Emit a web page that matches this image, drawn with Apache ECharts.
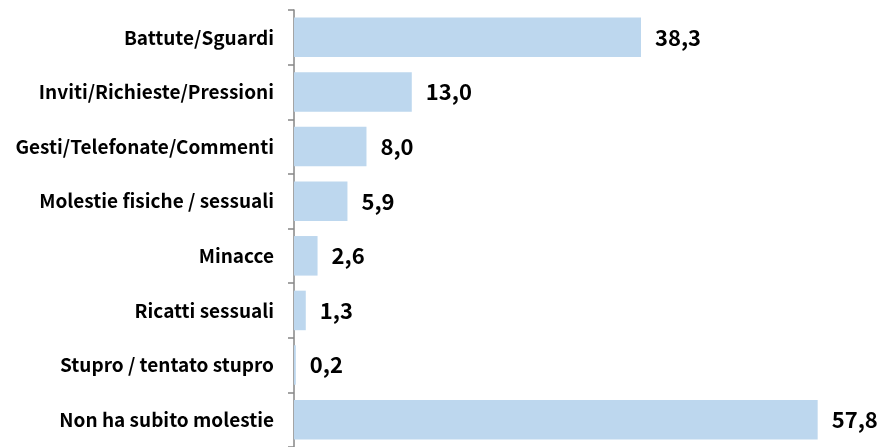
<!DOCTYPE html>
<html>
<head>
<meta charset="utf-8">
<script src="https://cdn.jsdelivr.net/npm/echarts@6/dist/echarts.min.js"></script>
<style>
  html, body { margin: 0; padding: 0; background: #fff; }
  #chart { width: 883px; height: 447px; }
</style>
</head>
<body>
<div id="chart"></div>
<script>
// tipologie di molestia (in ordine dall'alto)
var categories = [
    'Battute/Sguardi',
    'Inviti/Richieste/Pressioni',
    'Gesti/Telefonate/Commenti',
    'Molestie fisiche / sessuali',
    'Minacce',
    'Ricatti sessuali',
    'Stupro / tentato stupro',
    'Non ha subito molestie'
];
var values = [38.3, 13.0, 8.0, 5.9, 2.6, 1.3, 0.2, 57.8];

var FONT = '"Noto Sans CJK SC", "Noto Sans", sans-serif';

var chart = echarts.init(document.getElementById('chart'));

chart.setOption({
    animation: false,
    textStyle: { fontFamily: FONT },
    grid: { left: 294, top: 10, width: 543.6, height: 442 },
    xAxis: {
        type: 'value',
        min: 0,
        max: 60,
        show: false
    },
    yAxis: {
        type: 'category',
        data: categories,
        inverse: true,
        axisLine: { show: true, lineStyle: { color: '#868686', width: 1.5 } },
        axisTick: { show: true, length: 6, lineStyle: { color: '#868686', width: 1.5 } },
        axisLabel: {
            margin: 20,
            color: '#000',
            fontFamily: FONT,
            fontWeight: 'bold',
            fontSize: 19
        }
    },
    series: [{
        type: 'bar',
        data: values,
        barCategoryGap: '27.6%',
        itemStyle: { color: '#BDD7EE' },
        label: {
            show: true,
            position: 'right',
            distance: 14,
            color: '#000',
            fontFamily: FONT,
            fontWeight: 'bold',
            fontSize: 22,
            formatter: function (p) {
                return p.value.toFixed(1).replace('.', ',');
            }
        }
    }]
});
</script>
</body>
</html>
